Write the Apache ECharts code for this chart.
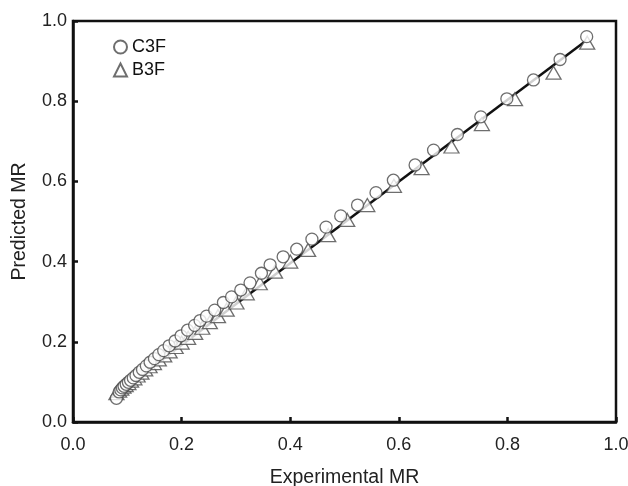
<!DOCTYPE html>
<html>
<head>
<meta charset="utf-8">
<script src="https://cdn.jsdelivr.net/npm/echarts@6/dist/echarts.min.js"></script>
<style>html,body{margin:0;padding:0;background:#fff;}#c{width:628px;height:486px;}</style>
</head>
<body>
<div id="c"></div>
<script>
const c3f = [[0.080,0.059],[0.085,0.075],[0.088,0.080],[0.091,0.085],[0.094,0.089],[0.098,0.094],[0.102,0.099],[0.106,0.104],[0.111,0.110],[0.116,0.116],[0.122,0.124],[0.128,0.131],[0.135,0.140],[0.142,0.149],[0.150,0.158],[0.158,0.168],[0.167,0.178],[0.177,0.190],[0.188,0.202],[0.199,0.215],[0.211,0.229],[0.224,0.241],[0.234,0.253],[0.246,0.264],[0.261,0.279],[0.277,0.298],[0.292,0.312],[0.309,0.329],[0.326,0.347],[0.347,0.371],[0.363,0.392],[0.387,0.412],[0.412,0.431],[0.440,0.456],[0.466,0.486],[0.493,0.514],[0.524,0.541],[0.558,0.572],[0.590,0.603],[0.630,0.641],[0.664,0.678],[0.708,0.717],[0.751,0.761],[0.799,0.806],[0.848,0.853],[0.897,0.904],[0.946,0.961]];
const b3f = [[0.080,0.072],[0.085,0.078],[0.089,0.083],[0.093,0.088],[0.097,0.092],[0.102,0.097],[0.107,0.103],[0.113,0.109],[0.119,0.116],[0.126,0.123],[0.133,0.131],[0.141,0.139],[0.149,0.147],[0.158,0.156],[0.168,0.166],[0.178,0.176],[0.189,0.187],[0.200,0.198],[0.212,0.210],[0.225,0.222],[0.238,0.235],[0.252,0.249],[0.267,0.264],[0.283,0.280],[0.301,0.298],[0.320,0.321],[0.344,0.346],[0.372,0.375],[0.400,0.400],[0.433,0.429],[0.470,0.466],[0.505,0.504],[0.542,0.541],[0.591,0.589],[0.642,0.633],[0.697,0.687],[0.753,0.743],[0.814,0.805],[0.885,0.871],[0.947,0.946]];
const fitLine = [[0.080,0.070],[0.946,0.952]];
const seriesNames = ['C3F','B3F'];
const xTitle = 'Experimental MR';
const yTitle = 'Predicted MR';

const chart = echarts.init(document.getElementById('c'), null, {renderer:'canvas'});
const font = 'Liberation Sans, Arial, sans-serif';
const axisCommon = {
  min: 0, max: 1, interval: 0.2,
  axisLine: {show: true, lineStyle: {color: '#111', width: 2.5}},
  axisTick: {show: true, inside: true, length: 5, lineStyle: {color: '#111', width: 2.5}},
  splitLine: {show: false},
  axisLabel: {color: '#222', fontSize: 18, fontFamily: font, formatter: v => v.toFixed(1)},
  nameLocation: 'middle',
  nameTextStyle: {color: '#222', fontSize: 19.5, fontFamily: font}
};
chart.setOption({
  animation: false,
  backgroundColor: '#fff',
  grid: {left: 73, right: 12, top: 21, bottom: 64, containLabel: false, outerBoundsMode: 'none',
         show: true, borderColor: '#111', borderWidth: 2.5, backgroundColor: 'transparent'},
  legend: {
    left: 108, top: 33, orient: 'vertical', itemGap: 5, itemWidth: 13, itemHeight: 13,
    data: seriesNames,
    textStyle: {color: '#111', fontSize: 18, fontFamily: font}
  },
  xAxis: Object.assign({}, axisCommon, {type: 'value', name: xTitle, nameGap: 46, axisLabel: Object.assign({}, axisCommon.axisLabel, {margin: 14})}),
  yAxis: Object.assign({}, axisCommon, {type: 'value', name: yTitle, nameGap: 43, axisLabel: Object.assign({}, axisCommon.axisLabel, {margin: 6})}),
  series: [
    {type: 'line', data: fitLine, symbol: 'none', lineStyle: {color: '#111', width: 2.5}, z: 1, silent: true},
    {name: seriesNames[0], type: 'scatter', data: c3f, symbol: 'circle', symbolSize: 12,
     itemStyle: {color: '#fff', borderColor: '#4a4a4a', borderWidth: 1.3}, z: 3},
    {name: seriesNames[1], type: 'scatter', data: b3f, symbol: 'triangle', symbolSize: [15, 13],
     itemStyle: {color: '#fff', borderColor: '#4a4a4a', borderWidth: 1.3}, z: 2}
  ]
});
</script>
</body>
</html>
